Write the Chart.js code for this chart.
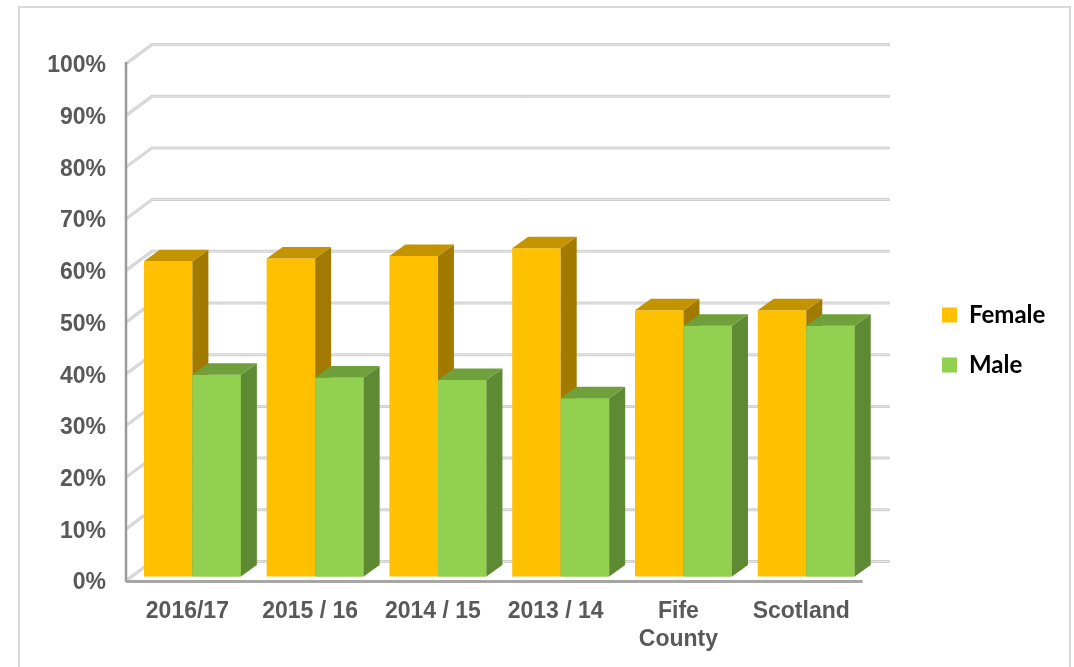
<!DOCTYPE html>
<html>
<head>
<meta charset="utf-8">
<script src="https://cdn.jsdelivr.net/npm/chart.js@4/dist/chart.umd.min.js"></script>
<style>
  html, body { margin: 0; padding: 0; background: #ffffff; }
  #wrap { width: 1074px; height: 667px; position: relative; }
</style>
</head>
<body>
<div id="wrap"><canvas id="c" width="1074" height="667"></canvas></div>
<script>
// ---- data ----
const categories = ['2016/17', '2015 / 16', '2014 / 15', '2013 / 14', ['Fife', 'County'], 'Scotland'];
const femaleValues = [61, 61.5, 62, 63.5, 51.5, 51.5];
const maleValues = [39, 38.5, 38, 34.5, 48.5, 48.5];
const seriesNames = ['Female', 'Male'];

// ---- styling ----
const FRONT = ['#FFC000', '#92D050'];
const TOP = ['#C49400', '#70A03C'];
const SIDE = ['#A27A00', '#5E8A33'];
const WALL_DEPTH = { x: 26, y: -18.5 };
const BAR_OFFSET = { x: 5, y: -3.5 };
const BAR_DEPTH = { x: 16, y: -11.5 };
const LEGEND_POS = { x: 942, y: 303 };

function drawFaces(ctx, bar, i) {
  const { x, y, base, width } = bar.getProps(['x', 'y', 'base', 'width'], true);
  const l = x - width / 2, r = x + width / 2;
  const dx = BAR_DEPTH.x, dy = BAR_DEPTH.y;
  ctx.fillStyle = SIDE[i];
  ctx.beginPath();
  ctx.moveTo(r, y); ctx.lineTo(r + dx, y + dy); ctx.lineTo(r + dx, base + dy); ctx.lineTo(r, base);
  ctx.closePath(); ctx.fill();
  ctx.fillStyle = TOP[i];
  ctx.beginPath();
  ctx.moveTo(l, y); ctx.lineTo(l + dx, y + dy); ctx.lineTo(r + dx, y + dy); ctx.lineTo(r, y);
  ctx.closePath(); ctx.fill();
}

const threeD = {
  id: 'threeD',
  beforeDraw(chart) {
    const ctx = chart.ctx;
    ctx.save();
    ctx.strokeStyle = '#d9d9d9';
    ctx.lineWidth = 2;
    ctx.strokeRect(19, 7, 1051, 700);
    ctx.restore();
  },
  afterLayout(chart) {
    const lg = chart.legend;
    if (!lg) return;
    const pad = lg.options.labels.padding;
    const dx = LEGEND_POS.x - pad - lg.left;
    const dy = LEGEND_POS.y - pad - lg.top;
    lg.left += dx; lg.right += dx; lg.top += dy; lg.bottom += dy;
  },
  beforeDatasetsDraw(chart) {
    const { ctx, chartArea: a, scales: { y } } = chart;
    ctx.save();
    ctx.lineCap = 'round';
    ctx.lineJoin = 'round';
    y.ticks.forEach(t => {
      const py = y.getPixelForValue(t.value);
      ctx.strokeStyle = '#cfcfcf';
      ctx.lineWidth = 3;
      ctx.beginPath();
      ctx.moveTo(a.left + 1, py);
      ctx.lineTo(a.left + WALL_DEPTH.x, py + WALL_DEPTH.y);
      ctx.lineTo(a.right + WALL_DEPTH.x, py + WALL_DEPTH.y);
      ctx.stroke();
      ctx.strokeStyle = '#e6e6e6';
      ctx.lineWidth = 1;
      ctx.stroke();
    });
    ctx.lineCap = 'butt';
    ctx.strokeStyle = '#9a9a9a';
    ctx.lineWidth = 2.5;
    ctx.beginPath();
    ctx.moveTo(a.left, a.top - 1);
    ctx.lineTo(a.left, a.bottom + 2);
    ctx.stroke();
    ctx.strokeStyle = '#a6a6a6';
    ctx.lineWidth = 3;
    ctx.beginPath();
    ctx.moveTo(a.left, a.bottom + 1.5);
    ctx.lineTo(a.right, a.bottom + 1.5);
    ctx.stroke();
    ctx.restore();
    ctx.save();
    ctx.translate(BAR_OFFSET.x, BAR_OFFSET.y);
  },
  afterDatasetsDraw(chart) {
    const ctx = chart.ctx;
    chart.getDatasetMeta(0).data.forEach(bar => drawFaces(ctx, bar, 0));
    chart.getDatasetMeta(1).data.forEach(bar => { bar.draw(ctx); drawFaces(ctx, bar, 1); });
    ctx.restore();
  }
};

Chart.defaults.font.family = "'Liberation Sans', Arial, sans-serif";

new Chart(document.getElementById('c'), {
  type: 'bar',
  data: {
    labels: categories,
    datasets: [
      { label: seriesNames[0], data: femaleValues, backgroundColor: FRONT[0], clip: false,
        categoryPercentage: 0.79, barPercentage: 1.0 },
      { label: seriesNames[1], data: maleValues, backgroundColor: FRONT[1], clip: false,
        categoryPercentage: 0.79, barPercentage: 1.0 }
    ]
  },
  options: {
    responsive: false,
    devicePixelRatio: 1,
    animation: false,
    layout: { padding: { left: 20, top: 63, right: 72, bottom: 0 } },
    scales: {
      x: {
        grid: { display: false, drawTicks: false },
        border: { display: false },
        ticks: { color: '#595959', font: { size: 23, weight: 'bold' }, padding: 18, maxRotation: 0, autoSkip: false },
        afterFit(s) { s.height = 87; }
      },
      y: {
        min: 0, max: 100,
        grid: { display: false, drawTicks: false },
        border: { display: false },
        ticks: { stepSize: 10, color: '#595959', font: { size: 23, weight: 'bold' }, padding: 20, labelOffset: 3,
                 callback: v => v + '%' },
        afterFit(s) { s.width = 106; }
      }
    },
    plugins: {
      legend: {
        position: 'right',
        align: 'start',
        labels: {
          boxWidth: 15, boxHeight: 15, padding: 26, color: '#000000',
          font: { family: 'Lato', size: 24, weight: 'bold' }
        }
      },
      tooltip: { enabled: false }
    }
  },
  plugins: [threeD]
});
</script>
</body>
</html>
